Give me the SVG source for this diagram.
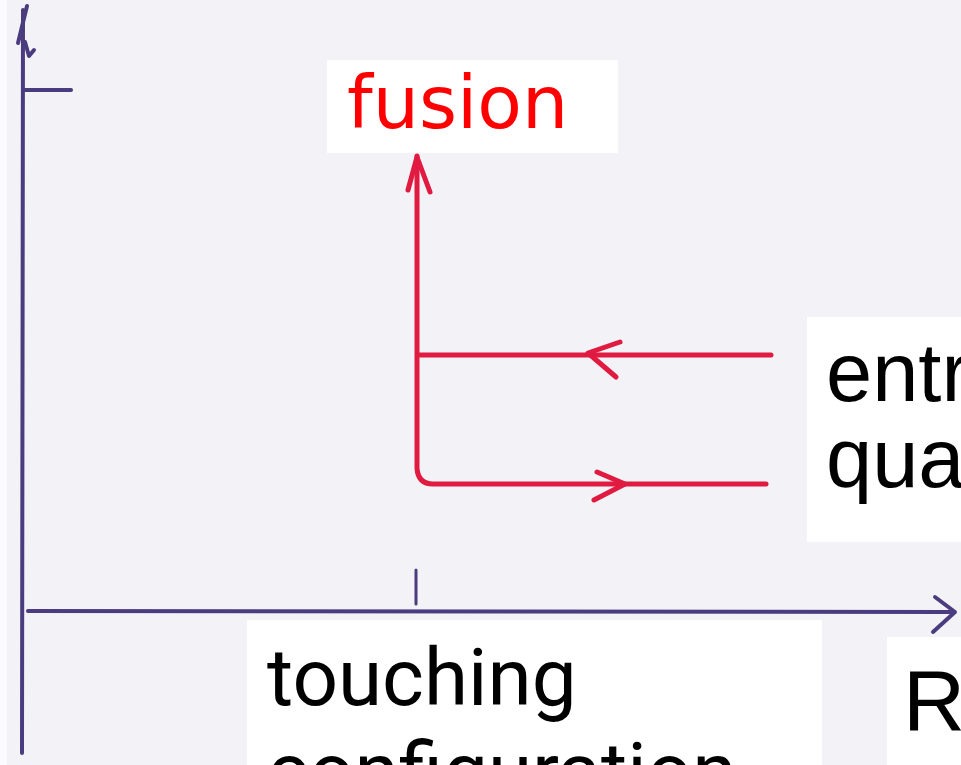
<svg xmlns="http://www.w3.org/2000/svg" width="961" height="765" viewBox="0 0 961 765">
<style>
.axis{fill:none;stroke:#4a3c7e;stroke-width:4;stroke-linecap:round;stroke-linejoin:round}
.red{fill:none;stroke:#e01a40;stroke-width:5;stroke-linecap:round;stroke-linejoin:round}
.box{fill:#ffffff}
.lbl{font-family:"Liberation Sans",Arial,sans-serif;fill:#000}
</style>
<rect x="0" y="0" width="961" height="765" fill="#f3f3f7"/>
<rect x="0" y="0" width="7" height="765" fill="#fbfbfd"/>
<g id="connectors">
<path class="axis" d="M23,10 L22,753"/>
<path class="axis" d="M27,6 L18,43"/>
<path class="axis" d="M25,42 L29,56 L34,50"/>
<path class="axis" d="M25,90 L71,90"/>
<path class="axis" d="M28,611 L952,612"/>
<path class="axis" d="M935,597 L955,612 L933,632"/>
<path class="axis" d="M416,570 L416,604" style="stroke-width:3"/>
<path class="red" d="M417,156 L417,468 Q418,484 433,484 L766,484"/>
<path class="red" d="M408,190 L417,157 L430,192"/>
<path class="red" d="M418,355 L771,355"/>
<path class="red" d="M620,342 L588,353 L616,377"/>
<path class="red" d="M597,472 L625,484 L594,500"/>
</g>
<g id="fusion">
<rect class="box" x="327" y="60" width="291" height="93"/>
<text x="347" y="128" font-family="'DejaVu Sans',Verdana,sans-serif" font-size="73" fill="#ff0000">fusion</text>
</g>
<g id="entrance">
<rect class="box" x="807" y="317" width="154" height="225"/>
<text class="lbl" x="826" y="401" font-size="83">entr</text>
<text class="lbl" x="826" y="487" font-size="83">qua</text>
</g>
<g id="touching">
<rect class="box" x="247" y="620" width="575" height="145"/>
<text x="267" y="705" font-family="Roboto,'Liberation Sans',sans-serif" font-size="80" fill="#000">touching</text>
<text x="267" y="799" font-family="Roboto,'Liberation Sans',sans-serif" font-size="80" fill="#000">configuration</text>
</g>
<g id="R">
<rect class="box" x="887" y="637" width="74" height="128"/>
<text class="lbl" x="903" y="730" font-size="86">R</text>
</g>
</svg>
